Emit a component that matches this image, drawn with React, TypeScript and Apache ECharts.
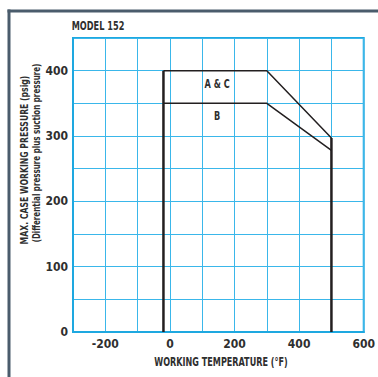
import React, { useEffect, useRef } from "react";
import * as echarts from "echarts";

const chartTitle = "MODEL 152";
const xAxisTitle = "WORKING TEMPERATURE (°F)";
const yAxisTitle1 = "MAX. CASE WORKING PRESSURE (psig)";
const yAxisTitle2 = "(Differential pressure plus suction pressure)";

const xLabelValues = [-200, 0, 200, 400, 600];
const yLabelValues = [0, 100, 200, 300, 400];

// curves: [temperature °F, pressure psig]
const acCurve = [[-20, 400], [300, 400], [500, 297]];
const bCurve = [[-20, 350], [300, 350], [500, 278]];
const lowTempLimit = [[-20, 0], [-20, 400]];
const highTempLimit = [[500, 0], [500, 297]];

const regionNames = ["A & C", "B"];
const regionPositions = [[146, 380], [146, 330]];

const FONT = "'DejaVu Sans Condensed', 'DejaVu Sans', sans-serif";
const TEXT = "#2f2f2f";
const INK = "#231f20";

export default function App() {
  const ref = useRef<HTMLDivElement>(null);
  useEffect(() => {
    document.body.style.margin = "0";
    if (!ref.current) return;
    const chart = echarts.init(ref.current, undefined, { renderer: "svg" });
    const lineStyleThin = { color: INK, width: 1.5 };
    const lineStyleThick = { color: INK, width: 2.5 };
    const narrowText = (text: string, x: number, y: number, size: number, sx: number, rot = 0) => ({
      type: "text",
      x,
      y,
      rotation: rot,
      scaleX: sx,
      style: {
        text,
        fill: TEXT,
        font: `bold ${size}px ${FONT}`,
        textAlign: "center",
        textVerticalAlign: "middle",
        align: "center",
        verticalAlign: "middle",
      },
    });
    chart.setOption({
      animation: false,
      backgroundColor: "#ffffff",
      grid: {
        left: 73,
        right: 10,
        top: 38,
        bottom: 45,
        show: true,
        borderColor: "#1ea8e0",
        borderWidth: 2,
        backgroundColor: "transparent",
      },
      xAxis: {
        type: "value",
        min: -300,
        max: 600,
        interval: 100,
        axisLine: { show: true, onZero: false, lineStyle: { color: "#1ea8e0", width: 2 } },
        axisTick: { show: false },
        splitLine: { show: true, lineStyle: { color: "#3ab7ea", width: 1 } },
        axisLabel: {
          margin: 6,
          color: TEXT,
          fontFamily: FONT,
          fontWeight: "bold",
          fontSize: 12,
          showMinLabel: true,
          showMaxLabel: true,
          formatter: (v: number) => (xLabelValues.includes(v) ? String(v) : ""),
        },
      },
      yAxis: {
        type: "value",
        min: 0,
        max: 450,
        interval: 50,
        axisLine: { show: true, onZero: false, lineStyle: { color: "#1ea8e0", width: 2 } },
        axisTick: { show: false },
        splitLine: { show: true, lineStyle: { color: "#3ab7ea", width: 1 } },
        axisLabel: {
          margin: 5,
          color: TEXT,
          fontFamily: FONT,
          fontWeight: "bold",
          fontSize: 12,
          showMinLabel: true,
          formatter: (v: number) => (yLabelValues.includes(v) ? String(v) : ""),
        },
      },
      graphic: [
        { type: "rect", shape: { x: 7.5, y: 9.5, width: 3, height: 370 }, style: { fill: "#4a5c6c" } },
        { type: "rect", shape: { x: 7.5, y: 9.5, width: 372, height: 3 }, style: { fill: "#4a5c6c" } },
        narrowText(chartTitle, 98, 26, 13, 0.7),
        narrowText(xAxisTitle, 221, 361, 12, 0.75),
        narrowText(yAxisTitle1, 24, 160, 11, 0.78, Math.PI / 2),
        narrowText(yAxisTitle2, 36, 153, 11, 0.72, Math.PI / 2),
      ],
      series: [
        { type: "line", data: acCurve, symbol: "none", lineStyle: lineStyleThin, z: 5 },
        { type: "line", data: bCurve, symbol: "none", lineStyle: lineStyleThin, z: 5 },
        { type: "line", data: lowTempLimit, symbol: "none", lineStyle: lineStyleThick, z: 5 },
        { type: "line", data: highTempLimit, symbol: "none", lineStyle: lineStyleThick, z: 5 },
        {
          type: "custom",
          data: regionPositions,
          z: 6,
          renderItem: (params: any, api: any) => {
            const p = api.coord([api.value(0), api.value(1)]);
            return {
              type: "text",
              x: p[0],
              y: p[1],
              scaleX: 0.7,
              style: {
                text: regionNames[params.dataIndex],
                fill: TEXT,
                font: `bold 13px ${FONT}`,
                align: "center",
                verticalAlign: "middle",
              },
            };
          },
        },
      ],
    });
    return () => chart.dispose();
  }, []);
  return <div ref={ref} style={{ width: 378, height: 377 }} />;
}
